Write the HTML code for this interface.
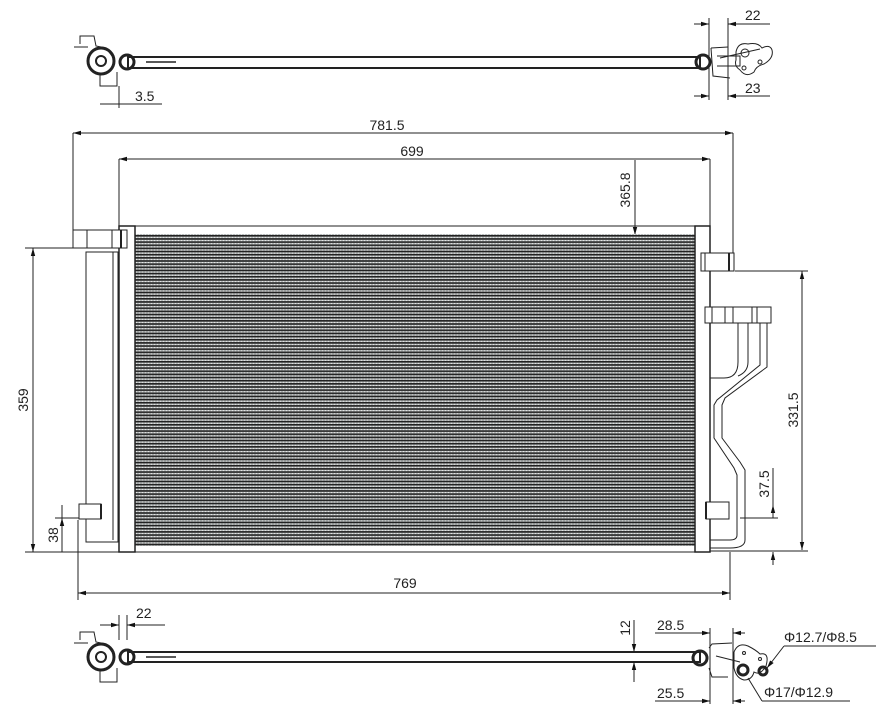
<!DOCTYPE html>
<html><head><meta charset="utf-8"><style>
html,body{margin:0;padding:0;background:#fff;}
svg{display:block}
text{font-family:"Liberation Sans",sans-serif;font-size:14px;fill:#222;}
</style></head><body>
<svg width="886" height="720" viewBox="0 0 886 720" xmlns="http://www.w3.org/2000/svg">
<defs>
<pattern id="fins" x="0" y="235" width="6" height="3.15" patternUnits="userSpaceOnUse">
<rect width="6" height="3.15" fill="#b4b8b8"/>
<rect y="0" width="6" height="1.6" fill="#222"/>
<circle cx="1.5" cy="2.4" r="0.6" fill="#eee"/><circle cx="4.5" cy="2.4" r="0.6" fill="#eee"/>
</pattern>
<marker id="a" markerWidth="8" markerHeight="6" refX="8" refY="3" orient="auto-start-reverse" markerUnits="userSpaceOnUse"><path d="M0,0.8 L8,3 L0,5.2z" fill="#111"/></marker>
</defs>
<g stroke="#222" fill="none" stroke-width="1">
<!-- top profile -->
<rect x="128" y="57" width="572" height="11" stroke-width="2"/>
<line x1="146" y1="62" x2="176" y2="62" stroke-width="1.5"/>
<circle cx="101" cy="61" r="13" stroke-width="3"/><circle cx="101" cy="61" r="5" stroke-width="2"/>
<circle cx="127" cy="62" r="7" stroke-width="3"/>
<path d="M80,44 L80,36 L94,36 L96,46 L106,48 L112,56 M74,47 L88,47 M100,74 L100,86 L117,86 L117,72"/>
<circle cx="703" cy="62" r="7" stroke-width="3"/>
<path d="M711,48 L728,47 M711,48 L713,76 L730,78 M717,56 L740,56 L740,66 L717,66 M720,58 L760,49"/>
<path d="M736,52 Q738,42 748,44 Q758,42 762,48 Q770,44 772,50 Q774,58 764,64 Q756,66 754,72 Q746,78 740,70 Q734,66 736,60z"/>
<circle cx="745" cy="53" r="4"/><circle cx="744" cy="68" r="2"/><circle cx="760" cy="62" r="2"/>
<!-- top dims -->
<line x1="119" y1="86" x2="119" y2="108"/><line x1="100" y1="104" x2="162" y2="104"/>
<line x1="709" y1="18" x2="709" y2="100"/><line x1="728" y1="18" x2="728" y2="100"/>
<line x1="694" y1="24" x2="709" y2="24" marker-end="url(#a)"/><line x1="770" y1="24" x2="728" y2="24" marker-end="url(#a)"/>
<line x1="694" y1="96" x2="709" y2="96" marker-end="url(#a)"/><line x1="770" y1="96" x2="728" y2="96" marker-end="url(#a)"/>
<!-- main dims -->
<line x1="73" y1="133" x2="733" y2="133" marker-start="url(#a)" marker-end="url(#a)"/>
<line x1="73" y1="133" x2="73" y2="248"/><line x1="733" y1="133" x2="733" y2="270"/>
<line x1="119" y1="159" x2="710" y2="159" marker-start="url(#a)" marker-end="url(#a)"/>
<line x1="119" y1="159" x2="119" y2="226"/><line x1="710" y1="159" x2="710" y2="226"/>
<line x1="635" y1="160" x2="635" y2="235" marker-end="url(#a)"/>
<line x1="33" y1="248" x2="33" y2="552" marker-start="url(#a)" marker-end="url(#a)"/>
<line x1="25" y1="248" x2="80" y2="248"/><line x1="25" y1="552" x2="119" y2="552"/>
<line x1="62" y1="505" x2="62" y2="518" /><line x1="62" y1="552" x2="62" y2="518" marker-end="url(#a)"/>
<line x1="55" y1="518" x2="80" y2="518"/>
<line x1="78" y1="593" x2="730" y2="593" marker-start="url(#a)" marker-end="url(#a)"/>
<line x1="78" y1="520" x2="78" y2="600"/><line x1="730" y1="552" x2="730" y2="600"/>
<line x1="802" y1="271" x2="802" y2="550" marker-start="url(#a)" marker-end="url(#a)"/>
<line x1="735" y1="271" x2="808" y2="271"/><line x1="710" y1="551" x2="808" y2="551"/>
<line x1="773" y1="468" x2="773" y2="518" /><line x1="773" y1="518" x2="773" y2="505" marker-end="url(#a)"/>
<line x1="773" y1="565" x2="773" y2="552" marker-end="url(#a)"/>
<line x1="740" y1="518" x2="778" y2="518"/>
<!-- core -->
<rect x="135" y="234" width="560" height="312" fill="url(#fins)" stroke="none"/>
<rect x="119" y="226" width="16" height="326" stroke-width="1.5" fill="#fff"/>
<rect x="695" y="226" width="15" height="326" stroke-width="1.5" fill="#fff"/>
<line x1="135" y1="226" x2="695" y2="226"/><line x1="135" y1="552" x2="695" y2="552"/>
<!-- left receiver -->
<rect x="86" y="252" width="32" height="290" fill="#fff"/>
<line x1="113" y1="252" x2="113" y2="540"/>
<rect x="73" y="230" width="54" height="18" fill="#fff"/>
<line x1="87" y1="230" x2="87" y2="248"/><line x1="112" y1="230" x2="112" y2="248"/><line x1="121" y1="230" x2="121" y2="248" stroke-width="2"/>
<rect x="79" y="504" width="22" height="15" fill="#fff"/><line x1="101" y1="504" x2="101" y2="519" stroke-width="2"/>
<!-- right pipes -->
<rect x="701" y="253" width="33" height="18" fill="#fff"/><line x1="705" y1="253" x2="705" y2="271"/><line x1="729" y1="253" x2="729" y2="271" stroke-width="2"/>
<rect x="705" y="307" width="66" height="16" fill="#fff"/>
<line x1="712" y1="307" x2="712" y2="323"/><line x1="725" y1="307" x2="725" y2="323"/><line x1="733" y1="307" x2="733" y2="323"/><line x1="752" y1="307" x2="752" y2="323"/><line x1="757" y1="307" x2="757" y2="323"/>
<path d="M738,323 L738,362 Q738,378 724,378 L710,378 M748,323 L748,362 Q748,372 738,376 M760,323 L760,365 L717,400 L714,405 L714,438 L734,468 L737,475 L737,535 Q737,540 730,540 L710,540 M767,323 L767,367 L725,398 L722,405 L722,438 L740,462 L745,470 L745,540 Q745,548 730,548 L710,548"/>
<rect x="706" y="502" width="23" height="17" fill="#fff"/><line x1="706" y1="502" x2="706" y2="519" stroke-width="2"/>
<!-- bottom profile -->
<rect x="128" y="652" width="572" height="10" stroke-width="2"/>
<line x1="146" y1="657" x2="176" y2="657" stroke-width="1.5"/>
<circle cx="101" cy="657" r="13" stroke-width="3"/><circle cx="101" cy="657" r="5" stroke-width="2"/>
<circle cx="127" cy="657" r="7" stroke-width="3"/>
<path d="M80,640 L80,632 L94,632 L96,642 L106,644 L112,652 M74,643 L88,643 M100,670 L100,682 L117,682 L117,668"/>
<line x1="119" y1="615" x2="119" y2="640"/><line x1="100" y1="625" x2="119" y2="625" marker-end="url(#a)"/><line x1="165" y1="625" x2="127" y2="625" marker-end="url(#a)"/><line x1="127" y1="615" x2="127" y2="640"/>
<circle cx="700" cy="658" r="7" stroke-width="3"/>
<path d="M709,648 L712,644 L732,643 M709,668 L712,677 L728,677 M716,656 L740,662"/>
<path d="M734,652 Q738,642 748,646 Q756,650 760,654 Q770,652 766,666 Q760,676 754,672 Q752,680 744,680 Q736,678 734,668z"/>
<circle cx="743" cy="670" r="5" stroke-width="3"/><circle cx="763" cy="671" r="4" stroke-width="3"/>
<circle cx="744" cy="653" r="1.5"/><circle cx="760" cy="659" r="1.5"/>
<line x1="710" y1="628" x2="710" y2="704"/><line x1="733" y1="628" x2="733" y2="704"/>
<line x1="655" y1="633" x2="710" y2="633" marker-end="url(#a)"/><line x1="745" y1="633" x2="733" y2="633" marker-end="url(#a)"/>
<line x1="655" y1="701" x2="710" y2="701" marker-end="url(#a)"/><line x1="745" y1="701" x2="733" y2="701" marker-end="url(#a)"/>
<line x1="634" y1="620" x2="634" y2="652" marker-end="url(#a)"/><line x1="634" y1="682" x2="634" y2="662" marker-end="url(#a)"/>
<line x1="767" y1="668" x2="784" y2="646" marker-start="url(#a)"/><line x1="784" y1="646" x2="876" y2="646"/>
<line x1="748" y1="678" x2="762" y2="701"/><line x1="762" y1="701" x2="850" y2="701"/>
</g>
<text x="135" y="101">3.5</text>
<text x="745" y="20">22</text>
<text x="745" y="93">23</text>
<text x="387" y="130" text-anchor="middle">781.5</text>
<text x="412" y="156" text-anchor="middle">699</text>
<text transform="translate(630,190) rotate(-90)" text-anchor="middle">365.8</text>
<text transform="translate(28,400) rotate(-90)" text-anchor="middle">359</text>
<text transform="translate(58,535) rotate(-90)" text-anchor="middle">38</text>
<text x="405" y="588" text-anchor="middle">769</text>
<text transform="translate(798,410) rotate(-90)" text-anchor="middle">331.5</text>
<text transform="translate(769,484) rotate(-90)" text-anchor="middle">37.5</text>
<text x="136" y="618">22</text>
<text transform="translate(630,628) rotate(-90)" text-anchor="middle">12</text>
<text x="657" y="630">28.5</text>
<text x="657" y="698">25.5</text>
<text x="784" y="642">Φ12.7/Φ8.5</text>
<text x="764" y="697">Φ17/Φ12.9</text>
</svg>
</body></html>
